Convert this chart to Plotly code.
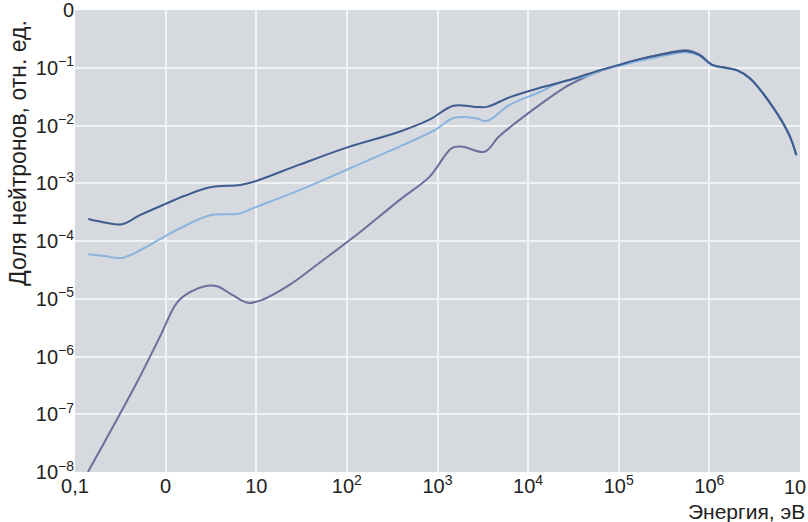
import plotly.graph_objects as go

# Energy (eV) and neutron fraction for three spectra
e_dark = [0.14, 0.21, 0.33, 0.52, 1.0, 1.6, 3.1, 6.6, 9.2, 30, 107, 380, 815, 1.5e3, 2.6e3, 3.5e3,
          6.3e3, 1.35e4, 2.9e4, 6.2e4, 1.0e5, 1.7e5, 2.8e5, 5.6e5, 7.8e5, 1.07e6, 1.5e6, 2.0e6,
          2.8e6, 5.0e6, 7.6e6, 9.1e6]
v_dark = [2.4e-4, 2.1e-4, 1.95e-4, 2.8e-4, 4.4e-4, 6.0e-4, 8.5e-4, 9.3e-4, 1.05e-3, 2.1e-3, 4.3e-3,
          7.8e-3, 1.26e-2, 2.2e-2, 2.1e-2, 2.1e-2, 3.1e-2, 4.5e-2, 6.2e-2, 9.1e-2, 0.112, 0.141,
          0.166, 0.195, 0.166, 0.112, 0.100, 0.091, 0.066, 0.021, 6.9e-3, 3.1e-3]

e_light = [0.14, 0.21, 0.33, 0.52, 1.0, 1.6, 3.1, 6.6, 9.2, 30, 107, 380, 930, 1.5e3, 2.6e3, 3.5e3,
           6.3e3, 1.35e4, 2.2e4, 4.8e4, 6.2e4, 1.0e5, 1.7e5, 2.8e5, 5.6e5, 7.8e5, 1.07e6, 1.5e6,
           2.0e6, 2.8e6, 5.0e6, 7.6e6, 9.1e6]
v_light = [5.9e-5, 5.5e-5, 5.1e-5, 6.9e-5, 1.23e-4, 1.8e-4, 2.8e-4, 3.0e-4, 3.7e-4, 7.6e-4, 1.8e-3,
           4.3e-3, 8.3e-3, 1.35e-2, 1.35e-2, 1.2e-2, 2.3e-2, 3.8e-2, 5.5e-2, 7.4e-2, 8.9e-2, 0.107,
           0.132, 0.155, 0.186, 0.162, 0.110, 0.099, 0.090, 0.065, 0.021, 6.8e-3, 3.0e-3]

e_purple = [0.139, 0.48, 0.865, 1.33, 1.85, 2.7, 3.7, 5.5, 8.1, 11.5, 23.5, 50, 138, 380, 815, 1.45e3,
            1.9e3, 3.3e3, 4.7e3, 6.3e3, 1.35e4, 2.5e4, 3.7e4, 6.2e4, 1.0e5, 1.7e5, 2.8e5, 5.6e5,
            7.8e5, 1.07e6, 1.5e6, 2.0e6, 2.8e6, 5.0e6, 7.6e6, 9.1e6]
v_purple = [1.0e-8, 3.5e-7, 2.2e-6, 8.5e-6, 1.3e-5, 1.65e-5, 1.65e-5, 1.15e-5, 8.5e-6, 9.5e-6,
            1.75e-5, 4.2e-5, 1.4e-4, 5.1e-4, 1.29e-3, 4.1e-3, 4.3e-3, 3.5e-3, 6.3e-3, 9.3e-3,
            2.3e-2, 4.5e-2, 6.2e-2, 8.8e-2, 0.110, 0.140, 0.168, 0.200, 0.168, 0.113, 0.100,
            0.091, 0.066, 0.021, 6.9e-3, 3.1e-3]

x_tickvals = [0.1, 1, 10, 1e2, 1e3, 1e4, 1e5, 1e6, 1e7]
x_ticktext = ["0,1", "0", "10", "10<sup>2</sup>", "10<sup>3</sup>", "10<sup>4</sup>",
              "10<sup>5</sup>", "10<sup>6</sup>", "10"]
y_tickvals = [1e-8, 1e-7, 1e-6, 1e-5, 1e-4, 1e-3, 1e-2, 1e-1, 1]
y_ticktext = ["10<sup>−8</sup>", "10<sup>−7</sup>", "10<sup>−6</sup>", "10<sup>−5</sup>",
              "10<sup>−4</sup>", "10<sup>−3</sup>", "10<sup>−2</sup>", "10<sup>−1</sup>", "0"]

FONT = "Liberation Sans, Arial, sans-serif"

fig = go.Figure()
fig.add_trace(go.Scatter(x=e_purple, y=v_purple, mode="lines",
                         line=dict(color="#6d6e9c", width=2, shape="spline", smoothing=1.0)))
fig.add_trace(go.Scatter(x=e_light, y=v_light, mode="lines",
                         line=dict(color="#8ab4de", width=2, shape="spline", smoothing=1.0)))
fig.add_trace(go.Scatter(x=e_dark, y=v_dark, mode="lines",
                         line=dict(color="#3e5c8e", width=2, shape="spline", smoothing=1.0)))

fig.update_layout(
    width=808, height=522,
    margin=dict(l=75, r=8, t=10, b=50, autoexpand=False),
    paper_bgcolor="white",
    plot_bgcolor="#d6d9de",
    showlegend=False,
    font=dict(family=FONT, size=20, color="#222222"),
)
# the last x label sits at the right edge of the page; it is drawn as an annotation
fig.update_xaxes(type="log", range=[-1, 7.0001], tickvals=x_tickvals,
                 ticktext=x_ticktext[:-1] + [""],
                 showgrid=True, gridcolor="#f2f3f5", gridwidth=2, zeroline=False,
                 showline=False, ticks="", automargin=False,
                 tickfont=dict(size=20, family=FONT))
fig.update_yaxes(type="log", range=[-8, 0], tickvals=y_tickvals, ticktext=y_ticktext,
                 showgrid=True, gridcolor="#f2f3f5", gridwidth=2, zeroline=False,
                 showline=False, ticks="", ticklabeloverflow="allow", automargin=False,
                 tickfont=dict(size=20, family=FONT))

fig.add_annotation(text=x_ticktext[-1], xref="paper", yref="paper", x=1.0, y=0,
                   xanchor="right", yanchor="top", xshift=7, yshift=-3, borderpad=0,
                   showarrow=False, font=dict(size=20, family=FONT, color="#222222"))
fig.add_annotation(text="Энергия, эВ", xref="paper", yref="paper", x=1.008, y=-0.085,
                   xanchor="right", yanchor="middle", borderpad=0, showarrow=False,
                   font=dict(size=21, family=FONT, color="#222222"))
fig.add_annotation(text="Доля нейтронов, отн. ед.", xref="paper", yref="paper",
                   x=-0.079, y=0.69, xanchor="center", yanchor="middle", textangle=-90,
                   showarrow=False, font=dict(size=23, family=FONT, color="#222222"))

fig.write_html("out.html")
